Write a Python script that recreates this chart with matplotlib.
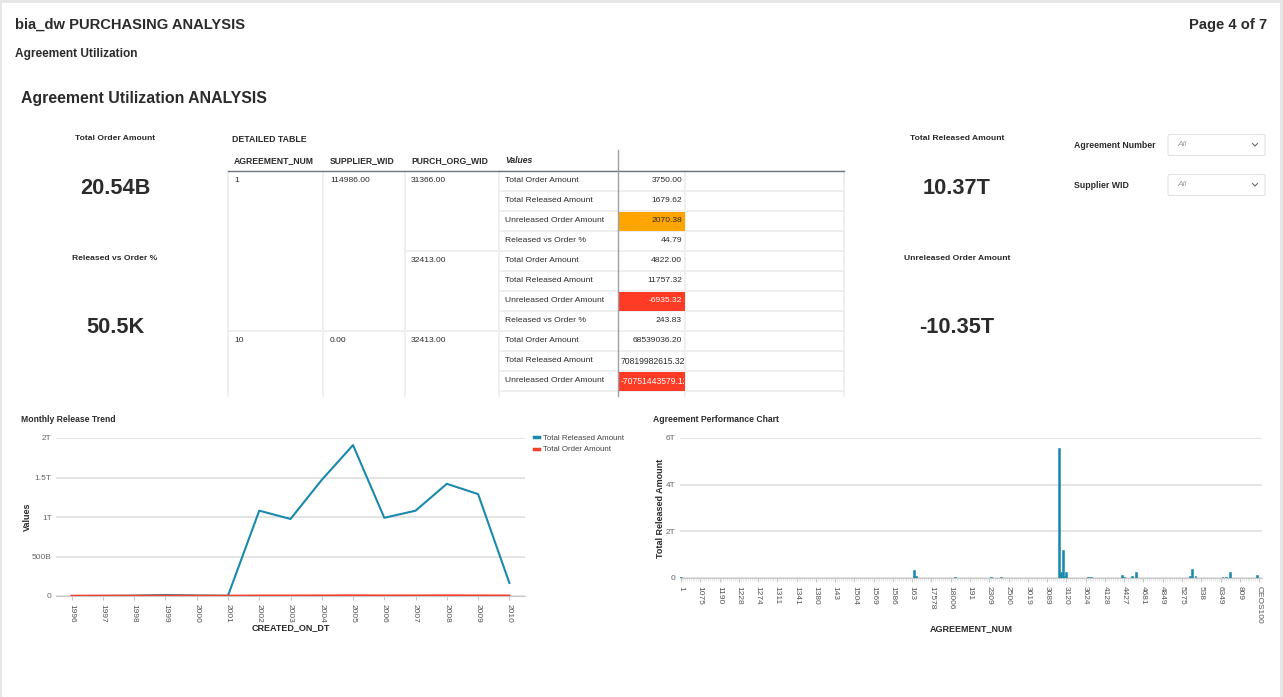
#--- Init ---
import matplotlib
matplotlib.use("Agg")
import matplotlib.pyplot as plt
from matplotlib.patches import Rectangle, FancyBboxPatch
from matplotlib.lines import Line2D

plt.rcParams['font.family'] = ['Liberation Sans', 'DejaVu Sans']

W, H = 1283, 697

# KPI tiles
kpi_left = [("Total Order Amount", "20.54B"), ("Released vs Order %", "50.5K")]
kpi_right = [("Total Released Amount", "10.37T"), ("Unreleased Order Amount", "-10.35T")]
filters = ["Agreement Number", "Supplier WID"]

# detailed table
table_cols = ["AGREEMENT_NUM", "SUPPLIER_WID", "PURCH_ORG_WID", "Values"]
agreements = ["1", "10"]
suppliers = ["114986.00", "0.00"]
purch_orgs = ["31366.00", "32413.00", "32413.00"]
metric_names = ["Total Order Amount", "Total Released Amount", "Unreleased Order Amount", "Released vs Order %"]
metric_values = ["3750.00", "1679.62", "2070.38", "44.79",
                 "4822.00", "11757.32", "-6935.32", "243.83",
                 "68539036.20", "70819982615.32", "-70751443579.12"]

# monthly release trend (values in T)
years = ["1996", "1997", "1998", "1999", "2000", "2001", "2002", "2003",
         "2004", "2005", "2006", "2007", "2008", "2009", "2010"]
released_t = [0.0, 0.001, 0.004, 0.012, 0.006, 0.003, 1.08, 0.975,
              1.47, 1.91, 0.99, 1.08, 1.42, 1.29, 0.165]
ordered_t = [0.001, 0.002, 0.002, 0.003, 0.002, 0.002, 0.004, 0.004,
             0.005, 0.006, 0.005, 0.005, 0.006, 0.005, 0.004]

# agreement performance (values in T), 301 agreements, only the visible bars listed
n_agreements = 301
agr_labels = ["1", "1075", "1190", "1228", "1274", "1311", "1341", "1380", "143", "1504",
              "1569", "1586", "163", "17578", "18006", "191", "2309", "2500", "3019", "3089",
              "3120", "3624", "4128", "4427", "4681", "4849", "5275", "538", "6349", "809", "CEOS100"]
bar_pos = [0, 8, 14, 27, 44, 61, 75, 96, 108, 121, 122, 131, 142, 155, 161, 163, 166,
           196, 197, 198, 199, 200, 211, 213, 229, 230, 234, 236, 250, 264, 265, 267,
           281, 283, 285, 299]
bar_vals = [0.04, 0.01, 0.015, 0.01, 0.008, 0.01, 0.012, 0.01, 0.012, 0.34, 0.08, 0.01, 0.06, 0.01, 0.03, 0.02, 0.03,
            5.57, 0.27, 1.2, 0.1, 0.24, 0.05, 0.06, 0.14, 0.05, 0.08, 0.24, 0.01, 0.1, 0.37, 0.08,
            0.03, 0.03, 0.26, 0.13]

TEAL = '#1a89ac'
RED = '#f5412b'
TXT = '#2b2b2b'

fig = plt.figure(figsize=(W / 100, H / 100), dpi=100, facecolor='#e6e6e6')
bg = fig.add_axes([0, 0, 1, 1])
bg.set_xlim(0, W)
bg.set_ylim(H, 0)
bg.axis('off')
bg.add_patch(Rectangle((2, 3), W - 5, H, facecolor='white', edgecolor='none'))

#--- Header ---
bg.text(15, 25, "bia_dw PURCHASING ANALYSIS", fontsize=10.6, weight='bold', color=TXT, va='center')
bg.text(1267, 25, "Page 4 of 7", fontsize=10.6, weight='bold', color=TXT, va='center', ha='right')
bg.text(15, 54, "Agreement Utilization", fontsize=8.6, weight='bold', color=TXT, va='center')
bg.text(21, 99, "Agreement Utilization ANALYSIS", fontsize=11.4, weight='bold', color=TXT, va='center')

#--- KPIs ---
for cx, items in [(115, kpi_left), (957, kpi_right)]:
    for (title, val), (ty, vy) in zip(items, [(139, 188), (259, 327)]):
        bg.text(cx, ty, title, fontsize=6.1, weight='bold', color=TXT, ha='center', va='center')
        bg.text(cx, vy + 0.5, val, fontsize=15.7, weight='bold', color=TXT, ha='center', va='center')

#--- Filters ---
for i, name in enumerate(filters):
    y = 145 + 40 * i
    bg.text(1074, y, name, fontsize=6.3, weight='bold', color=TXT, va='center')
    bg.add_patch(FancyBboxPatch((1168, y - 10.5), 97, 21, boxstyle="round,pad=0,rounding_size=2",
                                facecolor='white', edgecolor='#e2e2e2', lw=0.8))
    bg.text(1177, y - 0.5, "All", fontsize=6, style='italic', color='#9a9a9a', va='center')
    bg.plot([1252.5, 1255, 1257.5], [y - 1.5, y + 1, y - 1.5], color='#666666', lw=0.8)

#--- Table ---
bg.text(232, 139, "DETAILED TABLE", fontsize=6.3, weight='bold', color=TXT, va='center')
col_x = [234, 330, 411, 505]
for x, c in zip(col_x, table_cols):
    bg.text(x, 160.5, c, fontsize=6.2, weight='bold', color=TXT, va='center',
            style='italic' if c == "Values" else 'normal')
light = '#ececec'
row0, rh, tbottom = 171, 20, 396
n_rows = len(metric_values) + 1
# grid
for i in range(n_rows + 1):
    y = row0 + rh * i
    if y <= tbottom:
        bg.plot([499, 844], [y, y], color=light, lw=1.2, zorder=1)
bg.plot([405, 499], [251, 251], color=light, lw=1.2)
bg.plot([228, 499], [331, 331], color=light, lw=1.2)
for x in [228, 323, 405, 499, 685, 844]:
    bg.plot([x, x], [row0, tbottom], color=light, lw=1.2, zorder=1)
bg.plot([228, 844], [170.5, 170.5], color='#6f7680', lw=1.0, zorder=3)
bg.plot([617.5, 617.5], [150, tbottom], color='#9aa1a9', lw=1.0, zorder=3)

bg.text(234, 181, agreements[0], fontsize=6.1, color=TXT, va='center')
bg.text(234, 341, agreements[1], fontsize=6.1, color=TXT, va='center')
bg.text(330, 181, suppliers[0], fontsize=6.1, color=TXT, va='center')
bg.text(330, 341, suppliers[1], fontsize=6.1, color=TXT, va='center')
for j, y in enumerate([181, 261, 341]):
    bg.text(411, y, purch_orgs[j], fontsize=6.1, color=TXT, va='center')

for i, val in enumerate(metric_values):
    yc = row0 + rh * i + 10
    bg.text(505, yc, metric_names[i % 4], fontsize=6.1, color=TXT, va='center')
    fill = None
    if i % 4 == 2:
        fill = '#ffa500' if val[0] != '-' else '#ff3b25'
    tcol = TXT
    if fill:
        bg.add_patch(Rectangle((618.5, yc - 9.5), 66, 19, facecolor=fill, edgecolor='none', zorder=2))
        if fill != '#ffa500':
            tcol = 'white'
    if len(val) > 11:
        # long numbers overflow the cell, so cut them at its edge
        cell = Rectangle((618, yc - 10), 65.5, 20, facecolor='none', edgecolor='none')
        bg.add_patch(cell)
        t = bg.text(621, yc, val, fontsize=6.2, color=tcol, va='center', zorder=4)
        t.set_clip_on(True)
        t.set_clip_path(cell)
    else:
        bg.text(682, yc, val, fontsize=6.1, color=tcol, va='center', ha='right', zorder=4)


def fmt_t(v):
    if v == 0:
        return "0"
    if v < 1:
        return "%gB" % (v * 1000)
    return "%gT" % v


def style_axes(ax):
    for s in ['top', 'left', 'right']:
        ax.spines[s].set_visible(False)
    ax.spines['bottom'].set_color('#c8c8c8')
    ax.grid(axis='y', color='#e2e2e2', lw=1.3)
    ax.set_axisbelow(True)
    ax.tick_params(axis='y', length=0, pad=3, labelsize=6, labelcolor='#666666')
    ax.tick_params(axis='x', length=3, color='#c8c8c8', pad=3, labelsize=6, labelcolor='#555555')


#--- Monthly Release Trend ---
ax1 = fig.add_axes([56 / W, 1 - 596 / H, (525 - 56) / W, (596 - 438) / H])
style_axes(ax1)
xs = range(len(years))
ax1.plot(xs, released_t, color=TEAL, lw=1.5, zorder=3)
ax1.plot(xs, ordered_t, color=RED, lw=1.7, zorder=4)
ax1.set_xlim(-0.5, len(years) - 0.5)
ax1.set_ylim(0, 2)
ax1.set_yticks([0, 0.5, 1, 1.5, 2])
ax1.set_yticklabels([fmt_t(v) for v in [0, 0.5, 1, 1.5, 2]])
ax1.set_xticks(list(xs))
ax1.set_xticklabels(years, rotation=-90)
ax1.set_xlabel("CREATED_ON_DT", fontsize=6.5, weight='bold', color=TXT, labelpad=0)
ax1.set_ylabel("Values", fontsize=6.5, weight='bold', color=TXT, labelpad=0)
bg.text(21, 419, "Monthly Release Trend", fontsize=6.2, weight='bold', color=TXT, va='center')
handles = [Line2D([], [], color=TEAL, lw=2.5), Line2D([], [], color=RED, lw=2.5)]
fig.legend(handles, ["Total Released Amount", "Total Order Amount"], loc='upper left',
           bbox_to_anchor=(533.5 / W, 1 - 434 / H), fontsize=5.7, frameon=False, handlelength=0.75,
           handletextpad=0.45, labelspacing=0.55, borderpad=0, borderaxespad=0, labelcolor='#444444')

#--- Agreement Performance Chart ---
ax2 = fig.add_axes([680 / W, 1 - 578 / H, (1262 - 680) / W, (578 - 438) / H])
style_axes(ax2)
ax2.bar(bar_pos, bar_vals, width=1.0, color=TEAL, edgecolor=TEAL, linewidth=0.4, zorder=3)
ax2.set_xlim(-0.5, n_agreements + 0.5)
ax2.set_ylim(0, 6)
ax2.set_yticks([0, 2, 4, 6])
ax2.set_yticklabels([fmt_t(v) for v in [0, 2, 4, 6]])
step = (n_agreements - 1) // (len(agr_labels) - 1)
ax2.set_xticks(range(0, n_agreements, step))
ax2.set_xticklabels(agr_labels, rotation=-90)
ax2.set_xticks(range(n_agreements), minor=True)
ax2.tick_params(axis='x', which='minor', length=2, color='#e0e0e0', width=0.5)
ax2.set_xlabel("AGREEMENT_NUM", fontsize=6.5, weight='bold', color=TXT, labelpad=0)
ax2.set_ylabel("Total Released Amount", fontsize=6.5, weight='bold', color=TXT, labelpad=1)
bg.text(653, 419, "Agreement Performance Chart", fontsize=6.2, weight='bold', color=TXT, va='center')

fig.savefig("out.png", dpi=100, facecolor=fig.get_facecolor())
